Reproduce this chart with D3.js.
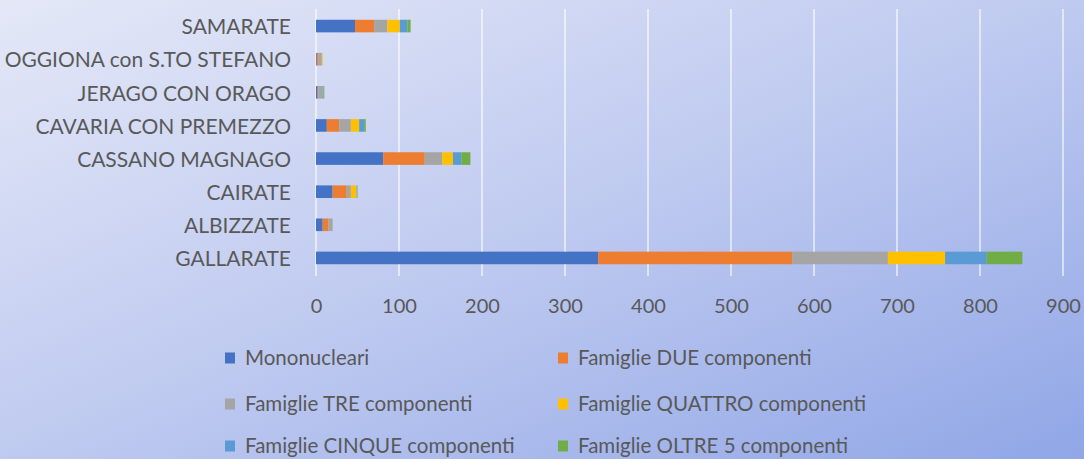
<!DOCTYPE html>
<html><head><meta charset="utf-8">
<script src="https://cdn.jsdelivr.net/npm/d3@7"></script>
<style>html,body{margin:0;padding:0;overflow:hidden}svg{display:block}</style>
</head><body><svg id="c" width="1084" height="459"></svg>
<script>
const categories = ["SAMARATE","OGGIONA con S.TO STEFANO","JERAGO CON ORAGO","CAVARIA CON PREMEZZO","CASSANO MAGNAGO","CAIRATE","ALBIZZATE","GALLARATE"];
const seriesNames = ["Mononucleari","Famiglie DUE componenti","Famiglie TRE componenti","Famiglie QUATTRO componenti","Famiglie CINQUE componenti","Famiglie OLTRE 5 componenti"];
const mononucleari = [47, 1, 2, 13, 81, 20, 8, 340];
const due          = [23, 2, 1, 15, 50, 17, 7, 234];
const tre          = [16, 4, 5, 14, 21, 5, 5, 115];
const quattro      = [15, 1, 0, 10, 13, 7, 0, 69];
const cinque       = [9, 0, 1, 6, 10, 1, 0, 50];
const oltre        = [4, 0, 1, 2, 11, 0, 0, 43];
const xTicks = [0,100,200,300,400,500,600,700,800,900];
const colors = ["#4472C4","#ED7D31","#A5A5A5","#FFC000","#5B9BD5","#70AD47"];

const seriesValues = [mononucleari, due, tre, quattro, cinque, oltre];
const rows = categories.map((c,i)=>{const r={cat:c}; seriesNames.forEach((s,j)=>r[s]=seriesValues[j][i]); return r;});
const stack = d3.stack().keys(seriesNames)(rows);

const svg = d3.select("#c");
const defs = svg.append("defs");
const g = defs.append("linearGradient").attr("id","bg").attr("x1","0").attr("y1","0").attr("x2","1").attr("y2","1");
g.append("stop").attr("offset","0").attr("stop-color","#e4e8f7");
g.append("stop").attr("offset","0.5").attr("stop-color","#bfcaf0");
g.append("stop").attr("offset","1").attr("stop-color","#90a6e6");
svg.append("rect").attr("width",1084).attr("height",459).attr("fill","url(#bg)");

const x = d3.scaleLinear().domain([0,900]).range([316,1063]);
const y = d3.scaleBand().domain(categories).range([9.5,274.5]).paddingInner(0.62).paddingOuter(0.31);

const font = "Lato, 'Open Sans', sans-serif";
// gridlines
svg.append("g").selectAll("line").data(xTicks).join("line")
  .attr("x1",d=>x(d)).attr("x2",d=>x(d)).attr("y1",9).attr("y2",276)
  .attr("stroke","#ffffff").attr("stroke-opacity",0.75).attr("stroke-width",1.5);

// bars
svg.append("g").selectAll("g").data(stack).join("g").attr("fill",(d,i)=>colors[i])
  .selectAll("rect").data(d=>d).join("rect")
  .attr("x",d=>x(d[0])).attr("width",d=>Math.max(0,x(d[1])-x(d[0])))
  .attr("y",d=>y(d.data.cat)).attr("height",y.bandwidth());

// x axis
const xAxis = svg.append("g").attr("transform","translate(0,306)")
  .call(d3.axisBottom(x).tickValues(xTicks).tickSize(0).tickPadding(0));
xAxis.select(".domain").remove();
xAxis.selectAll("text").attr("font-family",font).attr("font-size",20).attr("fill","#595959").attr("dy","0.35em");

// y axis
const yAxis = svg.append("g").attr("transform","translate(291,1.5)")
  .call(d3.axisLeft(y).tickSize(0).tickPadding(0));
yAxis.select(".domain").remove();
yAxis.selectAll("text").attr("font-family",font).attr("font-size",21).attr("fill","#595959");

// legend
const legPos = [[225,358],[558,358],[225,404],[558,404],[225,446],[558,446]];
const leg = svg.append("g").selectAll("g").data(seriesNames).join("g")
  .attr("transform",(d,i)=>`translate(${legPos[i][0]},${legPos[i][1]})`);
leg.append("rect").attr("x",0).attr("y",-5.5).attr("width",10).attr("height",11).attr("fill",(d,i)=>colors[i]);
leg.append("text").attr("x",20).attr("dy","0.35em").attr("font-family",font).attr("font-size",20.5).attr("fill","#595959").text(d=>d);
</script></body></html>
